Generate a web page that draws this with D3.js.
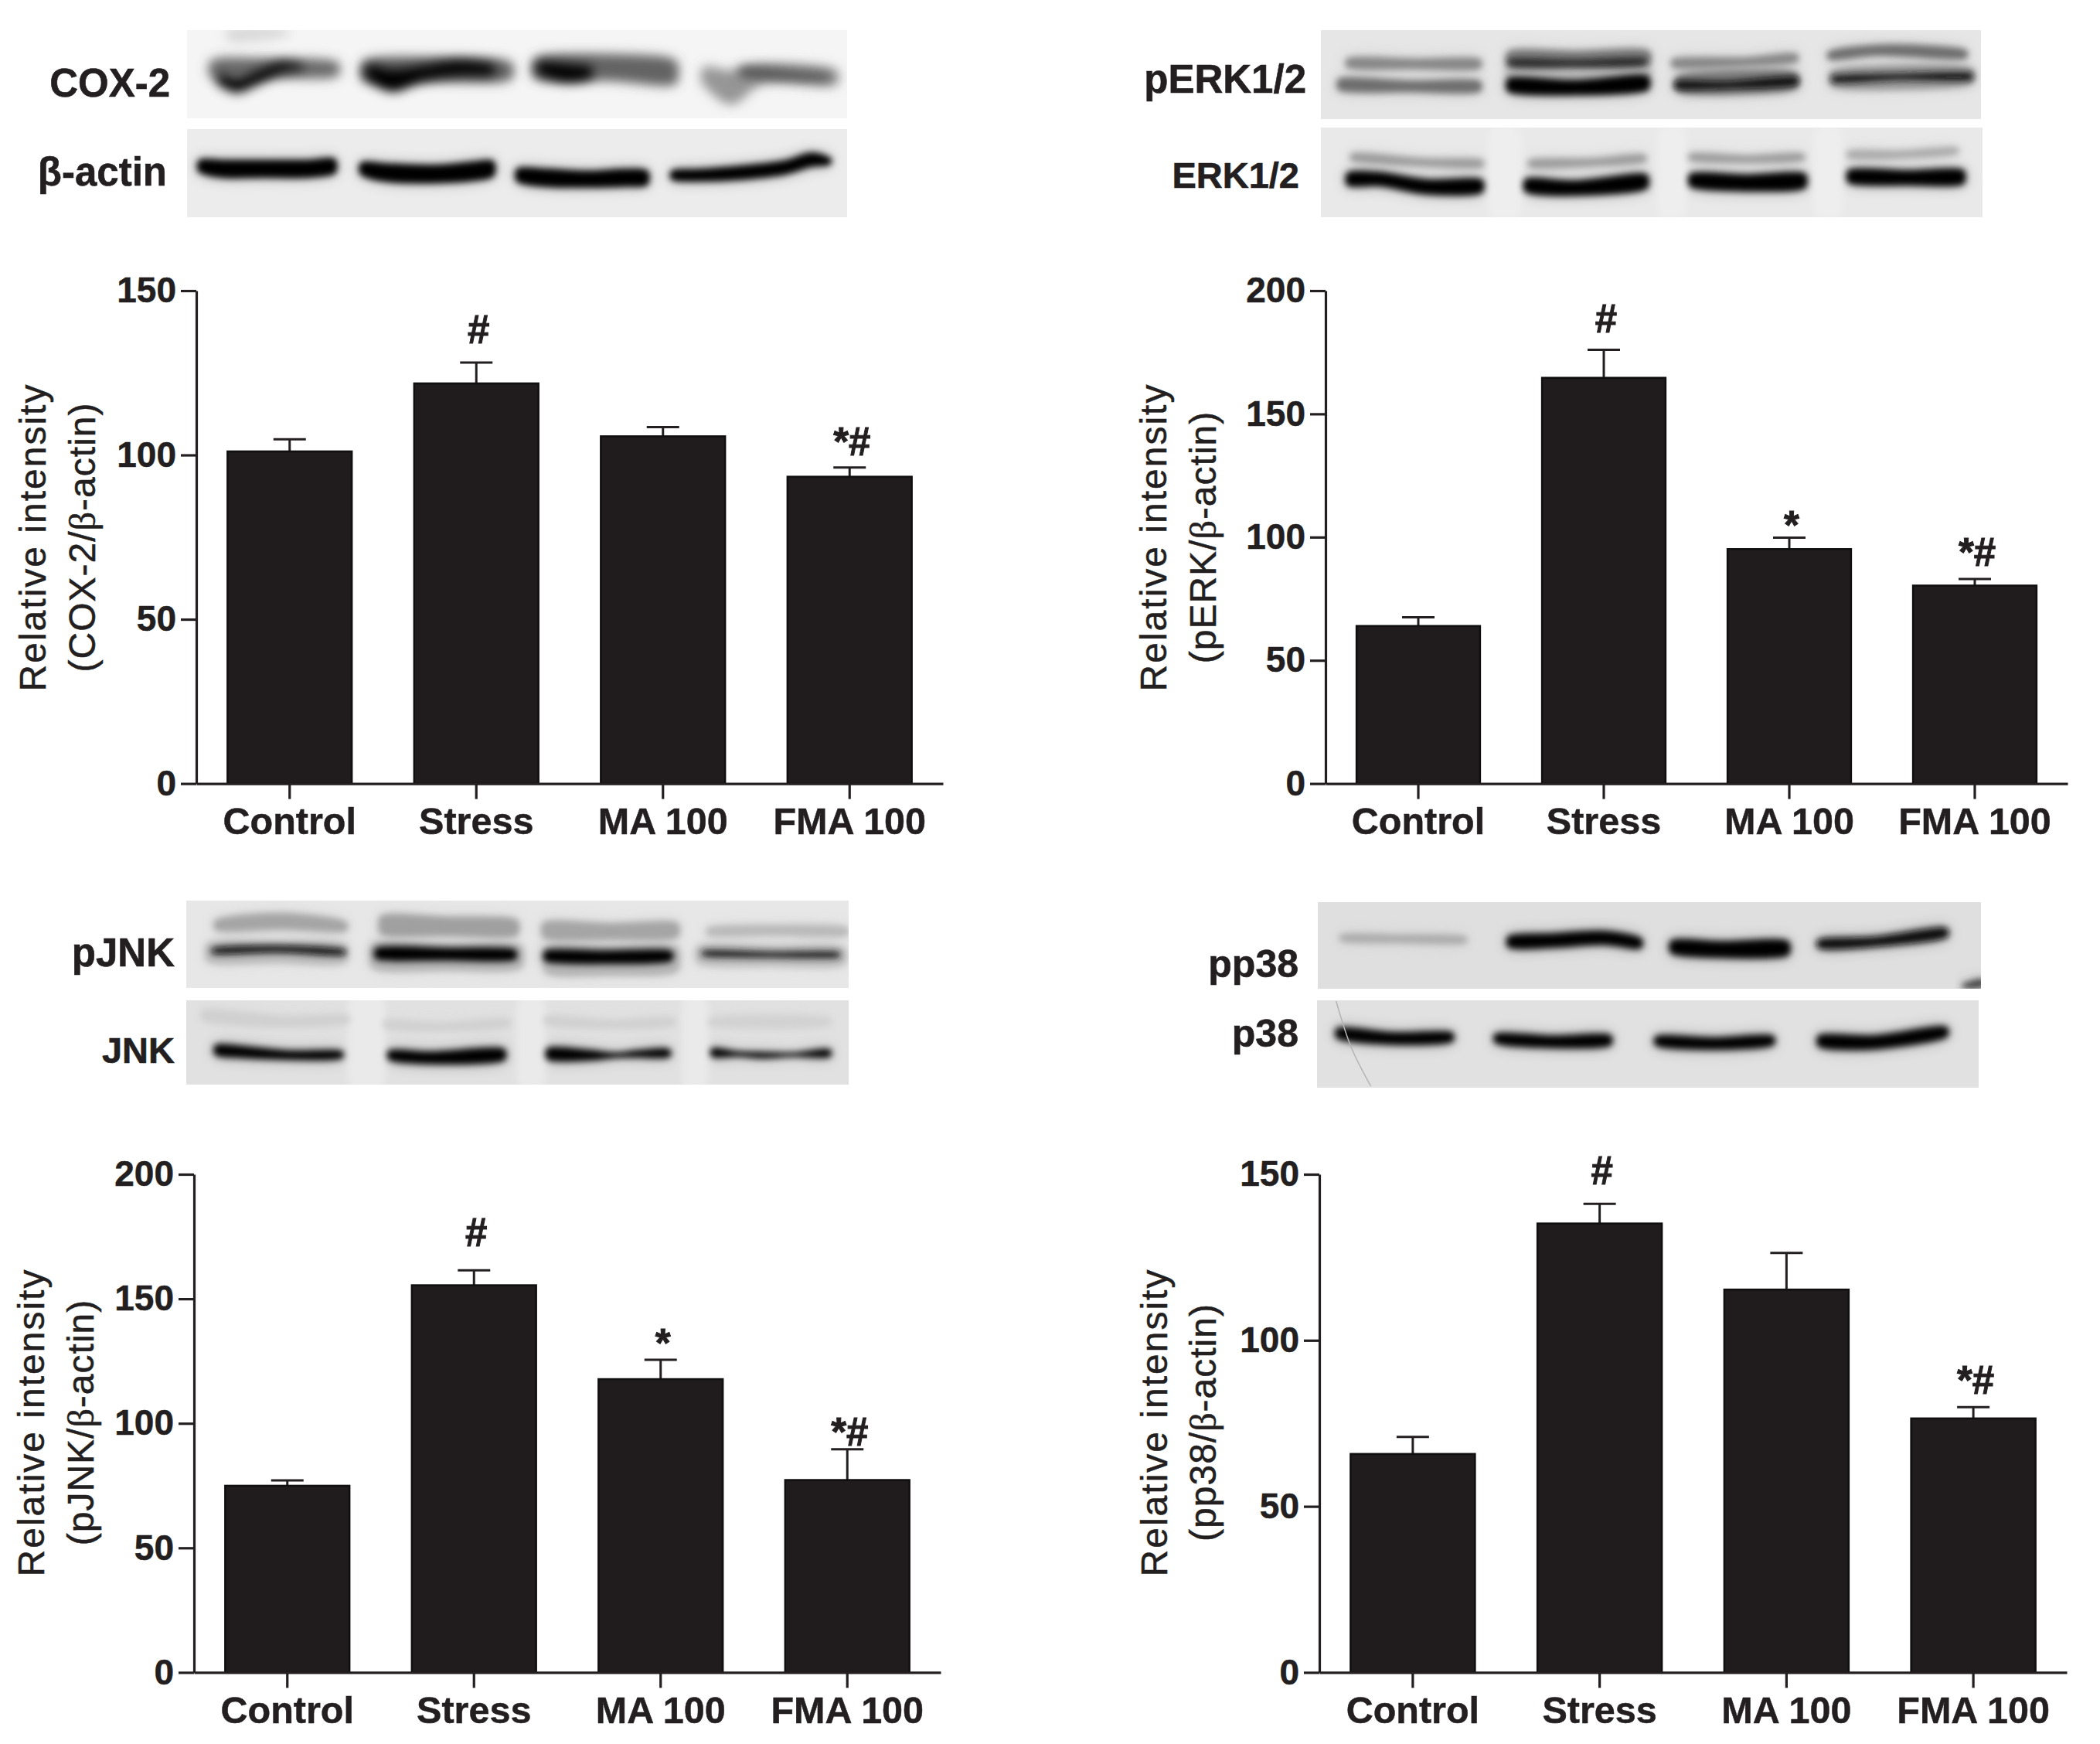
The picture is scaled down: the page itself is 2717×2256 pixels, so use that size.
<!DOCTYPE html>
<html>
<head>
<meta charset="utf-8">
<script src="https://cdn.jsdelivr.net/npm/d3@7"></script>
<style>
  html, body { margin: 0; background: #fff; }
  text { font-family: "Liberation Sans", Arial, sans-serif; fill: #231f20; }
  .tick text { font-weight: 700; stroke: #231f20; stroke-width: 0.5; }
  .axis path, .axis line { stroke: #231f20; stroke-width: 3.2; }
</style>
</head>
<body>
<div id="chart"></div>
<script>
// values
const categories = ["Control", "Stress", "MA 100", "FMA 100"];

const cox2Values = [101.2, 121.9, 105.8, 93.5];
const cox2Errors = [104.8, 128.1, 108.5, 96.2];
const cox2Marks = ["", "#", "", "*#"];
const cox2MarkAt = [0, 134, 0, 100];

const perkValues = [64.1, 164.8, 95.3, 80.5];
const perkErrors = [67.5, 176, 99.8, 83];
const perkMarks = ["", "#", "*", "*#"];
const perkMarkAt = [0, 183, 99.3, 88.3];

const pjnkValues = [75.1, 155.6, 117.9, 77.4];
const pjnkErrors = [77.1, 161.4, 125.5, 89.6];
const pjnkMarks = ["", "#", "*", "*#"];
const pjnkMarkAt = [0, 171, 126.7, 91];

const pp38Values = [65.9, 135.3, 115.4, 76.6];
const pp38Errors = [70.9, 141.1, 126.3, 79.9];
const pp38Marks = ["", "#", "", "*#"];
const pp38MarkAt = [0, 147, 0, 83.8];

const ticks150 = [0, 50, 100, 150];
const ticks200 = [0, 50, 100, 150, 200];

const panels = [
    { values: cox2Values, errors: cox2Errors, marks: cox2Marks, markAt: cox2MarkAt, ticks: ticks150,
      title: "(COX-2/", x0: 254, x1: 1220, top: 376, bottom: 1013.6, title1: 59, title2: 123, titleY: 695 },
    { values: perkValues, errors: perkErrors, marks: perkMarks, markAt: perkMarkAt, ticks: ticks200,
      title: "(pERK/", x0: 1715, x1: 2675, top: 376, bottom: 1013.6, title1: 1509, title2: 1573, titleY: 695 },
    { values: pjnkValues, errors: pjnkErrors, marks: pjnkMarks, markAt: pjnkMarkAt, ticks: ticks200,
      title: "(pJNK/", x0: 251, x1: 1217, top: 1519, bottom: 2163.4, title1: 57, title2: 121, titleY: 1840 },
    { values: pp38Values, errors: pp38Errors, marks: pp38Marks, markAt: pp38MarkAt, ticks: ticks150,
      title: "(pp38/", x0: 1707, x1: 2674, top: 1519, bottom: 2163.4, title1: 1510, title2: 1573, titleY: 1840 }
];

const blotLabels = [
    { text: "COX-2", x: 220, y: 125, size: 51 }, { text: "β-actin", x: 216, y: 240, size: 51 },
    { text: "pERK1/2", x: 1690, y: 120, size: 51 }, { text: "ERK1/2", x: 1681, y: 243, size: 47 },
    { text: "pJNK", x: 226, y: 1250, size: 51 }, { text: "JNK", x: 226, y: 1375, size: 47 },
    { text: "pp38", x: 1680, y: 1264, size: 50 }, { text: "p38", x: 1680, y: 1354, size: 50 }
];

// western blots: each band is [grey, [[x, y, half thickness], ...]] in a 1568x780 crop space
const blots = [
  { ox: 230, oy: 30, x: 242, y: 39, w: 854, h: 114, bg: "#f5f5f5", blur: "softer", bands: [
    [215, [[120, 45, 20], [250, 35, 10]]],
    [105, [[80, 178, 30], [220, 175, 32], [365, 178, 24]]],
    [95, [[430, 185, 35], [600, 180, 42], [765, 185, 30]]],
    [100, [[825, 175, 36], [1000, 172, 46], [1145, 190, 42]]],
    [150, [[1215, 205, 32], [1275, 250, 60], [1350, 195, 30], [1515, 210, 26]]],
    [5, [[98, 218, 18], [135, 240, 24], [180, 212, 22], [240, 172, 15], [285, 172, 5]]],
    [0, [[440, 190, 22], [495, 222, 38], [560, 195, 24], [650, 175, 24], [725, 182, 15]]],
    [0, [[835, 175, 20], [900, 192, 30], [950, 190, 18]]],
    [80, [[1300, 190, 16], [1400, 200, 17], [1500, 210, 10]]]
  ]},
  { ox: 230, oy: 30, x: 242, y: 167, w: 854, h: 114, bg: "#ececec", bands: [
    [6, [[52, 555, 24], [100, 565, 32], [200, 565, 32], [300, 565, 32], [360, 555, 28]]],
    [6, [[425, 565, 24], [480, 580, 33], [600, 585, 33], [680, 575, 35], [725, 565, 30]]],
    [6, [[785, 590, 26], [850, 600, 33], [950, 605, 30], [1030, 600, 32], [1080, 600, 28]]],
    [6, [[1142, 590, 18], [1200, 590, 22], [1300, 580, 25], [1400, 560, 25], [1460, 530, 25], [1500, 535, 14]]]
  ]},
  { ox: 1700, oy: 30, x: 1709, y: 39, w: 854, h: 115, bg: "#e6e6e6", bands: [
    [185, [[450, 195, 20], [770, 190, 20]]],
    [135, [[80, 155, 18], [230, 158, 18], [380, 158, 18]]],
    [125, [[450, 140, 30], [600, 140, 30], [770, 135, 28]]],
    [135, [[830, 155, 16], [1000, 150, 16], [1110, 135, 16]]],
    [110, [[1190, 125, 15], [1300, 105, 19], [1500, 120, 16]]],
    [40, [[455, 152, 11], [600, 155, 11], [760, 148, 11]]],
    [110, [[60, 238, 22], [220, 245, 20], [380, 245, 20]]],
    [125, [[840, 235, 30], [1110, 222, 30]]],
    [150, [[1195, 215, 28], [1515, 205, 28]]],
    [5, [[450, 240, 26], [600, 250, 27], [768, 232, 27]]],
    [15, [[838, 240, 13], [950, 240, 12], [1110, 225, 14]]],
    [18, [[1200, 217, 10], [1350, 208, 9], [1512, 207, 11]]]
  ]},
  { ox: 1700, oy: 30, x: 1709, y: 165, w: 856, h: 116, bg: "#e9e9e9", bands: [
    [238, [[410, 580, 170], [470, 580, 170]]],
    [238, [[800, 580, 170], [850, 580, 170]]],
    [238, [[1160, 580, 170], [1210, 580, 170]]],
    [155, [[90, 520, 14], [250, 540, 14], [385, 545, 14]]],
    [155, [[500, 545, 14], [640, 540, 14], [760, 525, 14]]],
    [155, [[870, 520, 13], [1000, 528, 13], [1125, 520, 13]]],
    [170, [[1235, 510, 14], [1350, 510, 14], [1480, 495, 12]]],
    [5, [[80, 605, 25], [150, 605, 25], [260, 635, 27], [385, 632, 25]]],
    [5, [[490, 630, 25], [600, 640, 27], [765, 615, 27]]],
    [5, [[870, 610, 25], [1000, 620, 30], [1130, 612, 28]]],
    [5, [[1235, 595, 25], [1370, 600, 27], [1495, 597, 27]]]
  ]},
  { ox: 230, oy: 1155, x: 241, y: 1165, w: 857, h: 113, bg: "#e7e7e7", bands: [
    [165, [[90, 125, 20], [240, 110, 30], [385, 130, 18]]],
    [160, [[470, 125, 35], [620, 130, 35], [780, 135, 30]]],
    [165, [[845, 145, 30], [1000, 150, 30], [1150, 145, 28]]],
    [185, [[1225, 150, 15], [1370, 145, 19], [1540, 150, 16]]],
    [185, [[70, 232, 34], [230, 230, 38], [385, 235, 34]]],
    [180, [[450, 245, 46], [620, 252, 46], [790, 248, 42]]],
    [180, [[850, 260, 50], [990, 265, 52], [1150, 258, 46]]],
    [190, [[1200, 240, 32], [1370, 245, 36], [1535, 245, 32]]],
    [10, [[85, 225, 9], [230, 218, 11], [380, 230, 9]]],
    [0, [[460, 235, 21], [620, 238, 22], [775, 240, 19]]],
    [0, [[850, 245, 20], [990, 250, 24], [1135, 245, 19]]],
    [30, [[1215, 235, 9], [1370, 240, 9], [1520, 240, 9]]]
  ]},
  { ox: 230, oy: 1155, x: 241, y: 1294, w: 857, h: 109, bg: "#e1e1e1", bands: [
    [234, [[400, 580, 170], [470, 580, 170]]],
    [234, [[790, 580, 170], [840, 580, 170]]],
    [234, [[1170, 580, 170], [1215, 580, 170]]],
    [208, [[60, 475, 20], [250, 500, 20], [390, 490, 15]]],
    [208, [[480, 510, 15], [600, 520, 15], [760, 505, 15]]],
    [208, [[850, 495, 15], [1000, 510, 15], [1140, 500, 15]]],
    [210, [[1230, 500, 15], [1500, 500, 15]]],
    [5, [[90, 610, 20], [130, 615, 22], [260, 630, 16], [375, 628, 14]]],
    [5, [[490, 630, 18], [580, 640, 22], [750, 628, 22]]],
    [5, [[855, 625, 22], [950, 630, 18], [1010, 630, 8], [1060, 625, 12], [1130, 622, 15]]],
    [5, [[1235, 620, 16], [1290, 625, 8], [1350, 630, 10], [1420, 628, 6], [1500, 622, 14]]]
  ]},
  { ox: 1695, oy: 1155, x: 1705, y: 1167, w: 858, h: 112, bg: "#dfdfdf", bands: [
    [170, [[75, 175, 12], [200, 178, 14], [355, 182, 12]]],
    [0, [[460, 190, 22], [560, 185, 26], [680, 175, 25], [760, 195, 20]]],
    [0, [[835, 210, 25], [950, 220, 30], [1100, 215, 27]]],
    [10, [[1175, 198, 17], [1300, 190, 18], [1465, 155, 18]]],
    [60, [[1510, 360, 8], [1550, 350, 14]]]
  ]},
  { ox: 1695, oy: 1155, x: 1704, y: 1294, w: 856, h: 113, bg: "#e1e1e1", bands: [
    [0, [[65, 545, 20], [190, 565, 22], [325, 560, 18]]],
    [0, [[430, 565, 18], [560, 578, 22], [690, 572, 20]]],
    [0, [[800, 575, 18], [930, 585, 22], [1065, 573, 18]]],
    [0, [[1175, 575, 22], [1300, 580, 25], [1465, 540, 20]]]
  ]}
];

const width = 2717, height = 2256;

let svg = d3.select("#chart")
    .append("svg")
    .attr("width", width)
    .attr("height", height)
    .attr("viewBox", [0, 0, width, height])
    .style("display", "block");

let defs = svg.append("defs");

function addBlur(id, dev) {
    defs.append("filter")
        .attr("id", id)
        .attr("x", "-30%").attr("y", "-200%")
        .attr("width", "160%").attr("height", "500%")
        .append("feGaussianBlur")
        .attr("stdDeviation", dev);
}
addBlur("soft", 4.5);
addBlur("softer", 7);
addBlur("halo", 10);

// taper both ends of a band so it fades out instead of stopping square
function taper(pts) {
    let a = pts[0], b = pts[pts.length - 1];
    return [[a[0] - 6, a[1], a[2] * 0.5], ...pts, [b[0] + 6, b[1], b[2] * 0.5]];
}

// blots
blots.forEach((blot, i) => {
    defs.append("clipPath").attr("id", `clip${i}`)
        .append("rect")
        .attr("x", blot.x).attr("y", blot.y)
        .attr("width", blot.w).attr("height", blot.h);

    let g = svg.append("g").attr("clip-path", `url(#clip${i})`);

    g.append("rect")
        .attr("x", blot.x).attr("y", blot.y)
        .attr("width", blot.w).attr("height", blot.h)
        .attr("fill", blot.bg);

    let bx = d3.scaleLinear().domain([0, 1568]).range([blot.ox, blot.ox + 880]);
    let by = d3.scaleLinear().domain([0, 780]).range([blot.oy, blot.oy + 260]);

    let band = d3.area()
        .x(d => bx(d[0]))
        .y0(d => by(d[1] - d[2]))
        .y1(d => by(d[1] + d[2]))
        .curve(d3.curveCatmullRom);

    // faint glow under every band, then the band itself
    g.selectAll(".glow")
        .data(blot.bands.filter(d => d[1][0][2] < 100))
        .join("path")
        .attr("class", "glow")
        .attr("d", d => band(taper(d[1])))
        .attr("fill", d => d3.rgb(d[0], d[0], d[0]))
        .attr("opacity", 0.3)
        .attr("filter", "url(#halo)");

    g.selectAll(".band")
        .data(blot.bands)
        .join("path")
        .attr("class", "band")
        .attr("d", d => band(taper(d[1])))
        .attr("fill", d => d3.rgb(d[0], d[0], d[0]))
        .attr("stroke", d => d3.rgb(d[0], d[0], d[0]))
        .attr("stroke-width", 2)
        .attr("stroke-linejoin", "round")
        .attr("filter", `url(#${blot.blur || "soft"})`);
});

// hair scratch on the p38 blot
let scratch = blots[7];
svg.append("path")
    .attr("d", d3.line().curve(d3.curveCatmullRom)(
        [[60, 420], [95, 600], [140, 750]].map(d => [
            d3.scaleLinear().domain([0, 1568]).range([scratch.ox, scratch.ox + 880])(d[0]),
            d3.scaleLinear().domain([0, 780]).range([scratch.oy, scratch.oy + 260])(d[1])
        ])))
    .attr("fill", "none")
    .attr("stroke", "#b4b4b4")
    .attr("stroke-width", 1.5);

svg.selectAll(".blot-label")
    .data(blotLabels)
    .join("text")
    .attr("class", "blot-label")
    .attr("x", d => d.x)
    .attr("y", d => d.y)
    .attr("text-anchor", "end")
    .style("font-size", d => d.size + "px")
    .style("font-weight", 700)
    .style("stroke", "#231f20")
    .style("stroke-width", 0.6)
    .text(d => d.text);

// bar panels
panels.forEach(p => {
    let x = d3.scaleBand()
        .domain(categories)
        .range([p.x0, p.x1])
        .paddingInner(0.33)
        .paddingOuter(0.165);

    let y = d3.scaleLinear()
        .domain([0, d3.max(p.ticks)])
        .range([p.bottom, p.top]);

    let rows = categories.map((c, i) => ({
        cat: c, value: p.values[i], err: p.errors[i], mark: p.marks[i], markAt: p.markAt[i]
    }));
    let mid = d => x(d.cat) + x.bandwidth() / 2;
    let g = svg.append("g");

    g.selectAll(".stem")
        .data(rows)
        .join("line")
        .attr("class", "stem")
        .attr("x1", mid).attr("x2", mid)
        .attr("y1", d => y(d.value)).attr("y2", d => y(d.err))
        .attr("stroke", "#231f20").attr("stroke-width", 3);

    g.selectAll(".cap")
        .data(rows)
        .join("line")
        .attr("class", "cap")
        .attr("x1", d => mid(d) - 21).attr("x2", d => mid(d) + 21)
        .attr("y1", d => y(d.err)).attr("y2", d => y(d.err))
        .attr("stroke", "#231f20").attr("stroke-width", 3);

    g.selectAll(".bar")
        .data(rows)
        .join("rect")
        .attr("class", "bar")
        .attr("x", d => x(d.cat) + 0.5)
        .attr("width", x.bandwidth() - 1)
        .attr("y", d => y(d.value) + 0.5)
        .attr("height", d => y(0) - y(d.value) - 0.5)
        .attr("fill", "#201c1d")
        .attr("stroke", "#0f0f0f")
        .attr("stroke-width", 2.5);

    g.append("g")
        .attr("class", "axis")
        .attr("transform", `translate(0,${p.bottom})`)
        .call(d3.axisBottom(x).tickSizeInner(20).tickSizeOuter(0).tickPadding(11))
        .selectAll("text")
        .style("font-size", "48.5px");

    g.append("g")
        .attr("class", "axis")
        .attr("transform", `translate(${p.x0},0)`)
        .call(d3.axisLeft(y).tickValues(p.ticks).tickSizeInner(20).tickSizeOuter(0).tickPadding(6))
        .selectAll("text")
        .style("font-size", "46px");

    g.selectAll(".mark")
        .data(rows.filter(d => d.mark))
        .join("text")
        .attr("class", "mark")
        .attr("x", d => mid(d) + 3)
        .attr("y", d => y(d.markAt))
        .attr("text-anchor", "middle")
        .style("font-size", "51px")
        .style("font-weight", 700)
        .style("stroke", "#231f20")
        .style("stroke-width", 1)
        .text(d => d.mark);

    // y axis titles, two rotated lines
    g.append("text")
        .attr("transform", `translate(${p.title1},${p.titleY}) rotate(-90)`)
        .attr("text-anchor", "middle")
        .style("font-size", "48px")
        .style("letter-spacing", "2px")
        .style("stroke", "#231f20")
        .style("stroke-width", 0.5)
        .text("Relative intensity");

    let t2 = g.append("text")
        .attr("transform", `translate(${p.title2},${p.titleY}) rotate(-90)`)
        .attr("text-anchor", "middle")
        .style("font-size", "48px")
        .style("letter-spacing", "1px")
        .style("stroke", "#231f20")
        .style("stroke-width", 0.5);
    t2.append("tspan").text(p.title);
    t2.append("tspan").style("font-family", "'Liberation Serif', serif").text("β");
    t2.append("tspan").text("-actin)");
});
</script>
</body>
</html>
